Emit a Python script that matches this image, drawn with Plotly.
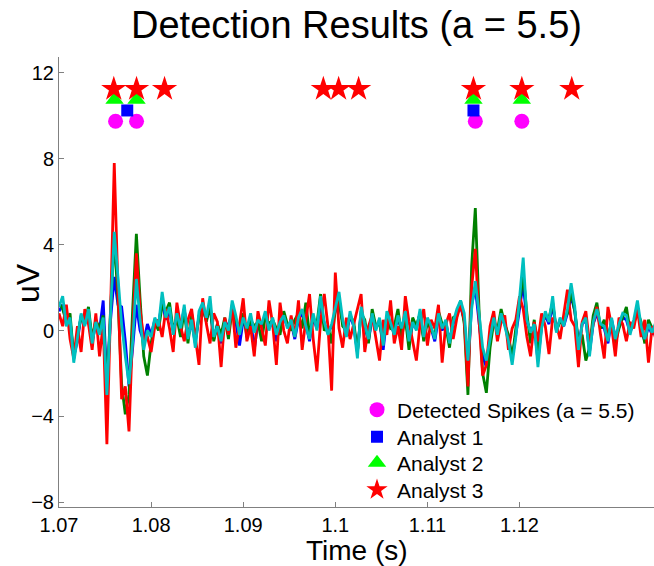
import plotly.graph_objects as go

# ---- sample clock (regular sampling grid) ----
TIME_START = 1.07
SAMPLE_STEP = 0.0004

ch_blue = [
    0.9, 1.2, 0.3, 0.5, -1.2, -0.5, 0.7, 0.3, 0.8, -0.5,
    0.3, 0.0, 1.4, -2.5, 0.5, 2.5, 1.2, 1.1, -0.5, -2.6,
    -0.8, 1.2, 0.0, -0.5, 0.3, -0.2, 0.5, 0.3, 1.3, 0.5,
    0.9, 0.0, 0.6, 0.2, 1.0, -0.3, 0.4, -0.6, 0.7, 1.0,
    0.5, 1.1, -0.4, 0.3, -0.6, 0.5, 0.1, 1.0, 0.4, -0.7,
    0.5, 0.0, 0.6, -0.9, 0.4, 0.2, 0.7, 0.1, 0.4, -0.5,
    0.3, 0.6, 0.2, 0.4, -0.4, 0.5, 0.8, 0.3, -0.5, 0.6,
    0.1, 1.2, 0.3, -0.1, 0.2, 0.9, 1.3, 0.4, -0.2, 0.7,
    0.2, -1.0, 0.9, 0.2, -0.5, 0.6, 0.1, 0.5, -0.9, 0.7,
    0.2, -0.1, 0.6, 0.0, 0.7, -0.6, 0.3, 0.1, 0.8, -0.4,
    0.5, 0.1, -0.5, 0.6, 0.0, 0.4, -0.5, 0.3, 0.8, 1.1,
    0.5, -1.8, 1.2, 2.0, 0.4, -1.2, -1.7, -0.2, 0.5, -0.1,
    0.6, 0.3, -0.4, -1.3, -0.2, 1.1, 2.2, 0.4, 0.0, 0.2,
    -1.4, 0.2, 0.7, 0.3, 1.2, 0.0, 0.5, 0.2, 0.8, 1.6,
    0.9, -0.7, 0.3, 0.5, -1.0, 0.3, 0.8, 0.2, 0.1, -0.6,
    0.5, -0.3, 0.2, 0.6, 0.5, -0.1, 0.4, 1.0, 0.1, -0.5,
    0.2, -0.2, 0.3,
]
ch_green = [
    1.3, 1.0, 0.4, 0.8, -1.3, -0.2, 0.6, 0.4, 1.1, -0.4,
    0.5, 0.1, 0.7, -2.8, 1.0, 4.3, 1.5, -2.5, -3.9, -3.0,
    1.0, 4.5, 1.5, -1.2, -2.1, -0.6, 0.4, 0.0, 1.2, 0.9,
    1.3, 0.0, 0.6, -0.3, 1.0, -0.6, 0.8, -0.4, 0.6, 1.1,
    0.4, 1.2, -0.5, 0.3, -0.2, 0.6, -0.4, 1.0, 0.5, 0.0,
    0.8, -0.3, 0.5, 0.2, 0.4, -0.5, 0.7, 0.3, 0.5, 0.1,
    -0.2, 0.9, 0.3, 0.0, 0.5, 0.8, 0.1, 1.3, -0.2, 0.6,
    0.3, 1.7, 0.0, 0.2, -0.6, 1.0, 1.5, 0.2, 0.0, 0.7,
    0.4, -1.0, 0.8, 0.5, -0.6, 1.0, 0.2, 0.3, -0.5, 0.7,
    0.1, 0.2, 1.0, -0.3, 0.6, -0.9, 0.6, 0.2, 0.8, -0.5,
    0.4, 0.0, -0.2, 0.9, 0.3, 0.2, -0.8, 0.6, 0.7, 1.4,
    0.3, -3.0, 3.0, 5.7, 1.0, -2.0, -2.9, -0.8, 0.4, 0.0,
    1.0, 0.3, -0.2, -1.3, 0.1, 1.2, 2.6, 0.8, -0.6, 0.5,
    -1.2, 0.3, 0.7, 0.6, 1.3, 0.0, 0.4, 0.5, 0.8, 1.8,
    0.9, -0.5, -0.2, -1.4, -0.8, 0.7, 1.3, 0.1, 0.5, -0.3,
    0.4, -0.6, 0.1, 0.6, 1.1, 0.0, 0.3, 0.9, 0.4, -0.6,
    0.5, 0.1, 0.2,
]
ch_red = [
    0.8, 0.2, 1.2, -0.4, -1.3, 0.2, -1.0, 1.0, 0.3, -0.9,
    0.8, -1.2, 0.3, -5.3, 1.0, 7.8, 2.0, -3.2, -2.6, -4.7,
    0.0, 3.6, 1.0, -0.4, -0.3, -1.0, 0.2, 0.5, -0.3, 1.0,
    0.1, -1.0, 1.3, 0.2, -0.5, 0.5, 1.0, -0.3, -1.6, 1.5,
    0.3, -0.6, 0.8, 0.4, -1.7, 0.6, -0.2, 1.2, -0.8, 0.3,
    1.5, -0.5, 0.2, -1.2, 0.9, 0.1, -0.7, 1.4, 0.3, -1.6,
    1.3, 0.0, -0.6, 0.7, -0.3, 1.4, -0.9, 0.5, 1.7, -0.4,
    -1.9, 0.4, 1.7, 0.2, -2.8, 2.7, 0.1, -0.8, 0.6, -0.4,
    0.3, 1.1, 1.7, -1.0, 0.2, 0.7, -0.3, -1.4, 0.5, -0.2,
    1.4, -0.6, 0.2, -0.9, 1.6, 0.4, -0.5, -1.4, 0.3, 1.0,
    -0.7, 0.5, 0.1, 1.2, -1.5, 0.3, 0.8, -0.4, 0.6, 1.2,
    0.5, -2.6, 2.0, 3.8, 0.5, -2.1, -1.6, 0.2, 0.9, -0.5,
    0.4, 0.7, -0.9, 0.1, 0.5, 1.6, 1.0, -0.3, -1.2, 0.4,
    -0.5, 0.8, 0.2, -1.1, 0.6, 0.3, -0.4, 0.7, 1.9, 0.5,
    0.2, -1.7, 0.4, 0.9, -0.6, 0.3, 1.1, -0.2, -1.3, 1.1,
    0.2, -1.2, 0.6, 0.3, -0.5, 0.4, 0.1, 1.0, -0.3, 0.5,
    -1.5, 0.2, -0.4,
]
ch_cyan = [
    1.1, 1.6, 0.2, 0.6, -1.5, -0.4, 0.8, 0.2, 1.0, -0.6,
    0.4, -0.2, 0.6, -3.0, 1.0, 4.6, 2.5, 0.3, -1.2, -2.5,
    -0.5, 2.4, 0.5, -0.9, 0.0, -0.3, 0.6, 0.2, 1.8, 0.6,
    1.1, -0.2, 0.8, 0.1, 1.2, -0.4, 0.5, -0.8, 0.9, 1.3,
    0.6, 1.6, -0.3, 0.2, -0.5, 0.4, 0.0, 1.4, 0.7, -0.2,
    0.6, 0.1, 0.8, -0.1, 0.5, 0.3, 0.9, 0.0, 0.6, -0.2,
    0.4, 0.7, 0.1, 0.5, -0.3, 0.6, 1.0, 0.2, -0.4, 0.8,
    0.0, 1.6, 0.4, -0.2, 0.3, 1.1, 1.8, 0.5, -0.3, 0.9,
    0.2, -1.3, 1.1, 0.3, -0.4, 0.8, 0.0, 0.6, -0.7, 0.9,
    0.3, -0.2, 0.7, 0.1, 0.9, -0.5, 0.4, 0.0, 1.0, -0.3,
    0.6, 0.2, -0.4, 0.8, 0.1, 0.5, -0.6, 0.4, 1.0, 1.4,
    0.8, -1.4, 1.0, 2.3, 0.8, -0.8, -1.4, -0.3, 0.6, -0.2,
    0.8, 0.2, -0.5, -1.6, -0.3, 1.5, 3.4, 0.5, -0.1, 0.3,
    -1.7, 0.1, 0.9, 0.4, 1.6, -0.1, 0.6, 0.2, 1.0, 2.2,
    1.1, -0.9, 0.3, 0.6, -1.2, 0.4, 1.0, 0.3, 0.2, -0.5,
    0.6, -0.4, 0.3, 0.8, 0.7, -0.2, 0.5, 1.4, 0.2, -0.4,
    0.3, -0.1, 0.4,
]

# ---- spike marks (time in s, level in uV) ----
detected_t = [1.07614, 1.07842, 1.11520, 1.12025]
detected_level = 9.75
analyst1_t = [1.07741, 1.11500]
analyst1_level = 10.25
analyst2_t = [1.07603, 1.07842, 1.11500, 1.12025]
analyst2_level = 10.75
analyst3_t = [1.07595, 1.07842, 1.08146, 1.09870, 1.10036, 1.10253,
              1.11500, 1.12025, 1.12567]
analyst3_level = 11.25

x_ticks = [1.07, 1.08, 1.09, 1.10, 1.11, 1.12]
x_tick_text = ["1.07", "1.08", "1.09", "1.1", "1.11", "1.12"]
y_ticks = [-8, -4, 0, 4, 8, 12]
y_tick_text = ["\u22128", "\u22124", "0", "4", "8", "12"]

n = len(ch_cyan)
t = [TIME_START + SAMPLE_STEP * i for i in range(n)]

FONT = "Liberation Sans, Arial, sans-serif"
fig = go.Figure()

for vals, col in [(ch_blue, "#0000FF"), (ch_green, "#008000"),
                  (ch_red, "#FF0000"), (ch_cyan, "#00BFBF")]:
    fig.add_trace(go.Scatter(x=t, y=vals, mode="lines",
                             line=dict(color=col, width=2.8),
                             showlegend=False, hoverinfo="skip"))

fig.add_trace(go.Scatter(x=detected_t, y=[detected_level] * len(detected_t),
                         mode="markers", name="Detected Spikes (a = 5.5)",
                         legend="legend",
                         marker=dict(symbol="circle", size=15, color="#FF00FF")))
fig.add_trace(go.Scatter(x=analyst1_t, y=[analyst1_level] * len(analyst1_t),
                         mode="markers", name="Analyst 1", legend="legend2",
                         marker=dict(symbol="square", size=12, color="#0000FF")))
fig.add_trace(go.Scatter(x=analyst2_t, y=[analyst2_level] * len(analyst2_t),
                         mode="markers", name="Analyst 2", legend="legend3",
                         marker=dict(symbol="triangle-up", size=16, color="#00FF00")))
fig.add_trace(go.Scatter(x=analyst3_t, y=[analyst3_level] * len(analyst3_t),
                         mode="markers", name="Analyst 3", legend="legend4",
                         marker=dict(symbol="star", size=19, color="#FF0000")))

PLOT_L, PLOT_R, PLOT_T, PLOT_B = 59, 654, 57, 507
PW, PH = PLOT_R - PLOT_L, PLOT_B - PLOT_T


def px_x(px):
    return (px - PLOT_L) / PW


def px_y(py):
    return (PLOT_B - py) / PH


def leg(row_y):
    return dict(x=px_x(357), y=px_y(row_y), xanchor="left", yanchor="middle",
                bgcolor="rgba(0,0,0,0)", borderwidth=0,
                font=dict(size=21, family=FONT))


fig.update_layout(
    width=654, height=566,
    margin=dict(l=PLOT_L, r=654 - PLOT_R, t=PLOT_T, b=566 - PLOT_B),
    paper_bgcolor="white", plot_bgcolor="white",
    font=dict(family=FONT, color="black", size=20),
    title=dict(text="Detection Results (a = 5.5)", x=0.5, xref="paper",
               y=1 - 25 / 566, yref="container", yanchor="middle",
               xanchor="center", font=dict(size=38, family=FONT)),
    showlegend=True,
    legend=leg(410), legend2=leg(437), legend3=leg(463), legend4=leg(490),
    xaxis=dict(range=[1.07, 1.1346], tickvals=x_ticks, ticktext=x_tick_text,
               showgrid=False, zeroline=False, showline=True,
               linecolor="#808080", linewidth=1, ticks="inside",
               ticklen=5, tickcolor="#808080", mirror=False,
               tickfont=dict(size=20, family=FONT)),
    yaxis=dict(range=[-8.22, 12.74], tickvals=y_ticks, ticktext=y_tick_text,
               showgrid=False, zeroline=False, showline=True,
               linecolor="#808080", linewidth=1, ticks="inside",
               ticklen=5, tickcolor="#808080", mirror=False,
               tickfont=dict(size=20, family=FONT)),
    annotations=[
        dict(text="Time (s)", xref="paper", yref="paper", x=0.5,
             y=px_y(550), xanchor="center", yanchor="middle",
             showarrow=False, font=dict(size=28, family=FONT)),
        dict(text="uV", xref="paper", yref="paper", x=px_x(28),
             y=px_y(283), xanchor="center", yanchor="middle",
             textangle=-90, showarrow=False, font=dict(size=32, family=FONT)),
    ],
)

fig.write_html("out.html",
               config={"displayModeBar": False},
               post_script="document.body.style.margin='0px';"
                           "document.body.style.overflow='hidden';")
